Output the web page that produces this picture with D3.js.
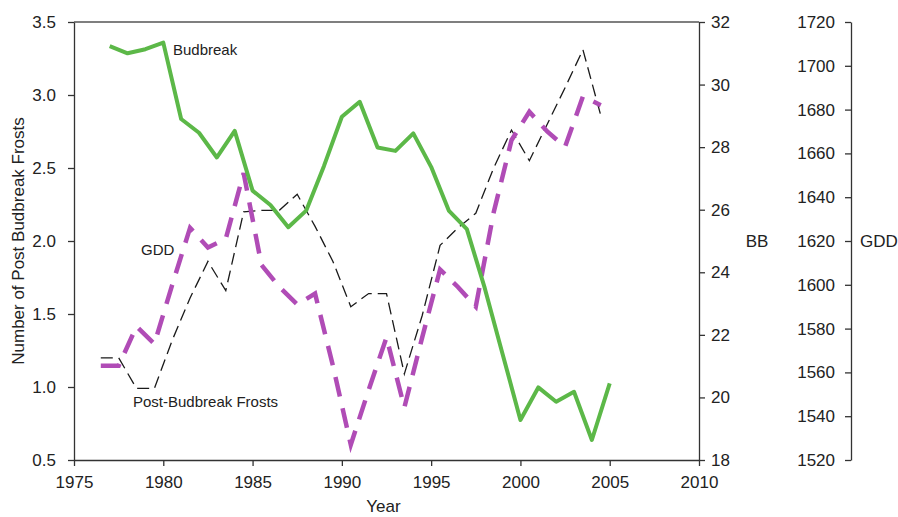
<!DOCTYPE html>
<html>
<head>
<meta charset="utf-8">
<script src="https://cdn.jsdelivr.net/npm/d3@7"></script>
<style>
  html, body { margin: 0; padding: 0; background: #fff; }
  svg { display: block; font-family: "Liberation Sans", Arial, sans-serif; }
  .axis path, .axis line { stroke: #333; stroke-width: 1.3; }
  .axis text { fill: #222; font-size: 17px; }
  .title { fill: #222; font-size: 17px; }
  .note { fill: #222; font-size: 15px; }
</style>
</head>
<body>
<svg id="chart" width="898" height="517"></svg>
<script>
// Budbreak date (BB, right inner axis), one value per year
const budbreakYears = [1977, 1978, 1979, 1980, 1981, 1982, 1983, 1984, 1985, 1986,
  1987, 1988, 1989, 1990, 1991, 1992, 1993, 1994, 1995, 1996,
  1997, 1998, 1999, 2000, 2001, 2002, 2003, 2004, 2005];
const budbreakValues = [31.23, 31.00, 31.13, 31.34, 28.90, 28.46, 27.67, 28.52, 26.61, 26.15,
  25.44, 25.97, 27.40, 28.97, 29.45, 27.99, 27.88, 28.44, 27.37, 25.96,
  25.38, 23.50, 21.39, 19.28, 20.32, 19.86, 20.18, 18.64, 20.45];

// GDD and post-budbreak frosts are plotted at mid-year positions
const midYears = [1976.5, 1977.5, 1978.5, 1979.5, 1980.5, 1981.5, 1982.5, 1983.5, 1984.5, 1985.5,
  1986.5, 1987.5, 1988.5, 1989.5, 1990.5, 1991.5, 1992.5, 1993.5, 1994.5, 1995.5,
  1996.5, 1997.5, 1998.5, 1999.5, 2000.5, 2001.5, 2002.5, 2003.5, 2004.5];
const gddValues = [1563, 1563, 1581, 1573, 1600, 1626, 1617, 1621, 1651, 1609,
  1599, 1591, 1596, 1563, 1527, 1552, 1576, 1544, 1576, 1607,
  1599, 1590, 1633, 1666, 1679, 1670, 1663, 1686, 1682];
const frostValues = [1.20, 1.20, 0.99, 0.99, 1.32, 1.61, 1.86, 1.66, 2.20, 2.21,
  2.21, 2.32, 2.10, 1.86, 1.55, 1.64, 1.64, 1.09, 1.49, 1.97,
  2.09, 2.19, 2.50, 2.76, 2.55, 2.80, 3.05, 3.31, 2.86];

// Axis ticks
const yearTicks = [1975, 1980, 1985, 1990, 1995, 2000, 2005, 2010];
const frostTicks = [0.5, 1.0, 1.5, 2.0, 2.5, 3.0, 3.5];
const bbTicks = [18, 20, 22, 24, 26, 28, 30, 32];
const gddTicks = [1520, 1540, 1560, 1580, 1600, 1620, 1640, 1660, 1680, 1700, 1720];

const svg = d3.select("#chart");
const plot = { left: 74, right: 699, top: 22, bottom: 460 };
const gddAxisX = 851;

const x = d3.scaleLinear().domain([1975, 2010]).range([plot.left, plot.right]);
const yFrost = d3.scaleLinear().domain([0.5, 3.5]).range([plot.bottom, plot.top]);
const yBB = d3.scaleLinear().domain([18, 32]).range([plot.bottom, plot.top]);
const yGDD = d3.scaleLinear().domain([1520, 1720]).range([plot.bottom, plot.top]);

// top border of the plot frame
svg.append("line")
  .attr("x1", plot.left).attr("x2", plot.right)
  .attr("y1", plot.top).attr("y2", plot.top)
  .attr("stroke", "#555").attr("stroke-width", 1.6);

// axes
svg.append("g").attr("class", "axis")
  .attr("transform", `translate(0,${plot.bottom})`)
  .call(d3.axisBottom(x).tickValues(yearTicks).tickFormat(d3.format("d"))
    .tickSize(6).tickPadding(10).tickSizeOuter(0));

svg.append("g").attr("class", "axis")
  .attr("transform", `translate(${plot.left},0)`)
  .call(d3.axisLeft(yFrost).tickValues(frostTicks).tickFormat(d3.format(".1f"))
    .tickSize(6).tickPadding(12).tickSizeOuter(0));

svg.append("g").attr("class", "axis")
  .attr("transform", `translate(${plot.right},0)`)
  .call(d3.axisRight(yBB).tickValues(bbTicks).tickFormat(d3.format("d"))
    .tickSize(6).tickPadding(6).tickSizeOuter(0));

svg.append("g").attr("class", "axis")
  .attr("transform", `translate(${gddAxisX},0)`)
  .call(d3.axisLeft(yGDD).tickValues(gddTicks).tickFormat(d3.format("d"))
    .tickSize(6).tickPadding(10).tickSizeOuter(0));

// axis titles
svg.append("text").attr("class", "title")
  .attr("transform", `translate(24,${(plot.top + plot.bottom) / 2}) rotate(-90)`)
  .attr("text-anchor", "middle").text("Number of Post Budbreak Frosts");
svg.append("text").attr("class", "title")
  .attr("x", (plot.left + plot.right) / 2 - 3).attr("y", 512)
  .attr("text-anchor", "middle").attr("font-size", 15.5).text("Year");
svg.append("text").attr("class", "title")
  .attr("x", 757).attr("y", 247).attr("text-anchor", "middle")
  .attr("font-size", 16).text("BB");
svg.append("text").attr("class", "title")
  .attr("x", 879).attr("y", 247).attr("text-anchor", "middle")
  .attr("font-size", 15.5).text("GDD");

// series lines
const lineBB = d3.line().x((d, i) => x(budbreakYears[i])).y(d => yBB(d));
const lineGDD = d3.line().x((d, i) => x(midYears[i])).y(d => yGDD(d));
const lineFrost = d3.line().x((d, i) => x(midYears[i])).y(d => yFrost(d));

svg.append("path").datum(frostValues)
  .attr("d", lineFrost).attr("fill", "none")
  .attr("stroke", "#1a1a1a").attr("stroke-width", 1.3)
  .attr("stroke-dasharray", "12,6");

svg.append("path").datum(gddValues)
  .attr("d", lineGDD).attr("fill", "none")
  .attr("stroke", "#b04cb6").attr("stroke-width", 4.5)
  .attr("stroke-dasharray", "20,12");

svg.append("path").datum(budbreakValues)
  .attr("d", lineBB).attr("fill", "none")
  .attr("stroke", "#5cb848").attr("stroke-width", 4)
  .attr("stroke-linejoin", "round");

// series annotations
svg.append("text").attr("class", "note").attr("x", 173).attr("y", 55).text("Budbreak");
svg.append("text").attr("class", "note").attr("x", 141).attr("y", 255).text("GDD");
svg.append("text").attr("class", "note").attr("x", 133).attr("y", 407).text("Post-Budbreak Frosts");
</script>
</body>
</html>
